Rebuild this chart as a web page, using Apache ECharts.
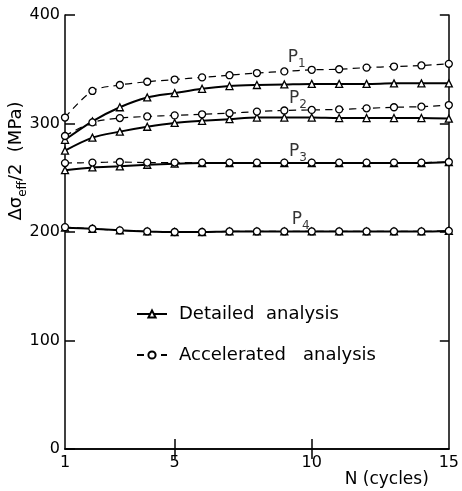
<!DOCTYPE html>
<html><head><meta charset="utf-8">
<script src="https://cdn.jsdelivr.net/npm/echarts@6/dist/echarts.min.js"></script>
<style>html,body{margin:0;padding:0;background:#fff}#c{width:462px;height:491px}</style>
</head><body><div id="c"></div>
<script>
const cycles = [1,2,3,4,5,6,7,8,9,10,11,12,13,14,15];
const p1Detailed    = [285, 302, 315, 324, 328, 332, 334.5, 335.5, 336, 336.5, 336.5, 336.5, 337, 337, 337];
const p1Accelerated = [305.5, 330, 335.5, 338.5, 340.5, 342.5, 344.5, 346.5, 348, 349.5, 350, 351.5, 352.5, 353.5, 355];
const p2Detailed    = [275, 287, 292.5, 297, 300.5, 302.5, 304, 305.5, 305.5, 305.5, 305, 305, 305, 305, 304.5];
const p2Accelerated = [288.5, 301, 305, 306.5, 307.5, 308.5, 309.5, 311, 312, 312.5, 313, 314, 315, 315.5, 317];
const p3Detailed    = [257, 259.5, 260.5, 262, 263, 263.5, 263.5, 263.5, 263.5, 263.5, 263.5, 263.5, 263.5, 263.5, 264.5];
const p3Accelerated = [263.5, 264, 264.5, 264, 264, 264, 264, 264, 264, 264, 264, 264, 264, 264, 264.5];
const p4Detailed    = [204, 203, 201.5, 200.5, 200, 200, 200.5, 200.5, 200.5, 200.5, 200.5, 200.5, 200.5, 200.5, 201];
const p4Accelerated = [204.5, 203, 201.5, 200.5, 200, 200, 200.5, 200.5, 200.5, 200.5, 200.5, 200.5, 200.5, 200.5, 201];
const xTickLabels = [1, 5, 10, 15];
const xInnerTicks = [5, 10];
const legendNames = ['Detailed analysis', 'Accelerated analysis'];
const legendTexts = { 'Detailed analysis': 'Detailed  analysis', 'Accelerated analysis': 'Accelerated   analysis' };
const curveLabels = [['P', '1'], ['P', '2'], ['P', '3'], ['P', '4']];
const curveLabelPos = [[9.45, 361], [9.5, 323.5], [9.5, 275], [9.6, 212]];

const FONT = 'DejaVu Sans';
const zip = (ys) => cycles.map((x, i) => [x, ys[i]]);

function detailed(ys) {
  return {
    type: 'line', name: legendNames[0], data: zip(ys), smooth: 0.3,
    symbol: 'triangle', symbolSize: 7,
    itemStyle: { color: '#fff', borderColor: '#000', borderWidth: 1.3 },
    lineStyle: { color: '#000', width: 2 }, z: 3
  };
}
function accelerated(ys) {
  return {
    type: 'line', name: legendNames[1], data: zip(ys), smooth: 0.3,
    symbol: 'circle', symbolSize: 7,
    itemStyle: { color: '#fff', borderColor: '#000', borderWidth: 1.3 },
    lineStyle: { color: '#000', width: 1.2, type: [7, 5] }, z: 4
  };
}

const axisLine = { show: true, lineStyle: { color: '#000', width: 1.5 } };
const chart = echarts.init(document.getElementById('c'), null, { renderer: 'canvas' });
chart.setOption({
  animation: false,
  backgroundColor: '#fff',
  textStyle: { fontFamily: FONT, color: '#000' },
  grid: { left: 65, right: 12, top: 15, bottom: 42 },
  legend: {
    data: legendNames,
    orient: 'vertical', left: 131, top: 300, itemWidth: 30, itemHeight: 9, itemGap: 23,
    textStyle: { fontFamily: FONT, fontSize: 18, color: '#000', padding: [0, 0, 0, 7] },
    formatter: (n) => legendTexts[n]
  },
  xAxis: [{
    type: 'value', min: 1, max: 15, position: 'bottom',
    name: 'N (cycles)', nameLocation: 'end', nameGap: 0,
    nameTextStyle: { fontFamily: FONT, fontSize: 17, color: '#000', align: 'right', verticalAlign: 'top', padding: [22, 20, 0, 0] },
    axisLine, splitLine: { show: false },
    axisTick: { inside: true, length: 10, customValues: xInnerTicks, lineStyle: { color: '#000', width: 1.5 } },
    axisLabel: { customValues: xTickLabels, fontSize: 16, color: '#000', fontFamily: FONT, margin: 6 }
  }, {
    type: 'value', min: 1, max: 15, position: 'top',
    axisLine, splitLine: { show: false },
    axisTick: { inside: true, length: 10, customValues: xInnerTicks, lineStyle: { color: '#000', width: 1.5 } },
    axisLabel: { show: false }
  }],
  yAxis: [{
    type: 'value', min: 0, max: 400, interval: 100, position: 'left',
    axisLine, splitLine: { show: false },
    axisTick: { inside: true, length: 10, lineStyle: { color: '#000', width: 1.5 } },
    axisLabel: { fontSize: 16, color: '#000', fontFamily: FONT, margin: 5 }
  }, {
    type: 'value', min: 0, max: 400, interval: 100, position: 'right',
    axisLine, splitLine: { show: false },
    axisTick: { inside: true, length: 9, lineStyle: { color: '#000', width: 1.5 } },
    axisLabel: { show: false }
  }],
  series: [
    detailed(p1Detailed), accelerated(p1Accelerated),
    detailed(p2Detailed), accelerated(p2Accelerated),
    detailed(p3Detailed), accelerated(p3Accelerated),
    detailed(p4Detailed), accelerated(p4Accelerated),
    {
      type: 'scatter', name: 'labels', symbolSize: 0, silent: true, z: 5,
      data: curveLabelPos.map((p, i) => ({ value: p, lab: curveLabels[i] })),
      label: {
        show: true, position: 'inside',
        formatter: (p) => '{m|' + p.data.lab[0] + '}{s|' + p.data.lab[1] + '}',
        rich: {
          m: { fontFamily: FONT, fontSize: 17, color: '#000', verticalAlign: 'bottom', lineHeight: 18 },
          s: { fontFamily: FONT, fontSize: 12, color: '#000', verticalAlign: 'bottom', lineHeight: 10, padding: [0, 0, -4, 0] }
        }
      }
    }
  ],
  graphic: [{
    type: 'text', x: 16, y: 161, rotation: Math.PI / 2,
    style: {
      text: '{m|Δσ}{s|eff}{m|/2  (MPa)}',
      rich: {
        m: { fontFamily: FONT, fontSize: 18, fill: '#000', verticalAlign: 'bottom', lineHeight: 19 },
        s: { fontFamily: FONT, fontSize: 12, fill: '#000', verticalAlign: 'bottom', lineHeight: 10, padding: [0, 0, -3, 0] }
      },
      align: 'center', verticalAlign: 'middle'
    }
  }]
});
</script></body></html>
